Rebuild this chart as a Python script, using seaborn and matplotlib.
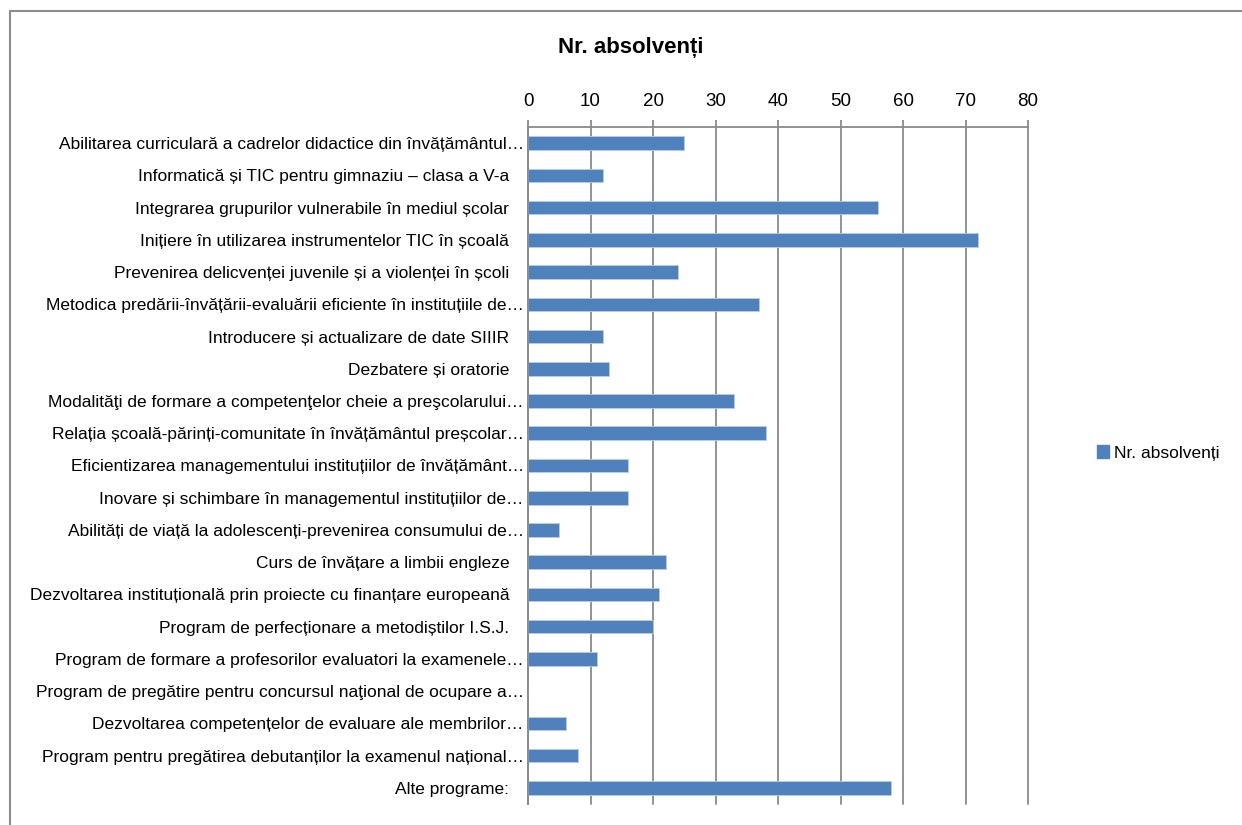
import matplotlib
matplotlib.use("Agg")
import matplotlib.pyplot as plt
import matplotlib.patches as mpatches
import numpy as np
import pandas as pd
import seaborn as sns

# data
programe = [
    "Abilitarea curriculară a cadrelor didactice din învățământul…",
    "Informatică și TIC pentru gimnaziu – clasa a V-a   ",
    "Integrarea grupurilor vulnerabile în mediul școlar   ",
    "Inițiere în utilizarea instrumentelor TIC în școală   ",
    "Prevenirea delicvenței juvenile și a violenței în școli   ",
    "Metodica predării-învățării-evaluării eficiente în instituțiile de…",
    "Introducere și actualizare de date SIIIR   ",
    "Dezbatere și oratorie   ",
    "Modalităţi de formare a competenţelor cheie a preşcolarului…",
    "Relația școală-părinți-comunitate în învățământul preșcolar…",
    "Eficientizarea managementului instituțiilor de învățământ…",
    "Inovare și schimbare în managementul instituțiilor de…",
    "Abilități de viață la adolescenți-prevenirea consumului de…",
    "Curs de învățare a limbii engleze   ",
    "Dezvoltarea instituțională prin proiecte cu finanțare europeană   ",
    "Program de perfecționare a metodiștilor I.S.J.   ",
    "Program de formare a profesorilor evaluatori la examenele…",
    "Program de pregătire pentru concursul naţional de ocupare a…",
    "Dezvoltarea competențelor de evaluare ale membrilor…",
    "Program pentru pregătirea debutanților la examenul național…",
    "Alte programe:   ",
]
absolventi = [25, 12, 56, 72, 24, 37, 12, 13, 33, 38, 16, 16, 5, 22, 21, 20, 11, 0, 6, 8, 58]
series_name = "Nr. absolvenți"
x_ticks = [0, 10, 20, 30, 40, 50, 60, 70, 80]

BAR_COLOR = "#4F81BD"
GRID_COLOR = "#8A8A8A"

sns.set_style("white")
plt.rcParams["font.family"] = ["Liberation Sans", "DejaVu Sans"]
plt.rcParams["text.color"] = "black"
plt.rcParams["xtick.color"] = "black"
plt.rcParams["ytick.color"] = "black"

df = pd.DataFrame({"program": programe, "n": absolventi})

fig = plt.figure(figsize=(12.42, 8.25), dpi=100)
ax = fig.add_axes([528 / 1242, 1 - 804 / 825, 500 / 1242, 677 / 825])

sns.barplot(data=df, y="program", x="n", orient="h", color=BAR_COLOR,
            width=0.42, edgecolor="#B9CDE5", linewidth=0.6, saturation=1, ax=ax)

ax.set_xlim(0, 80)
ax.set_ylim(len(programe) - 0.5, -0.5)
ax.xaxis.tick_top()
ax.set_xticks(x_ticks)
ax.set_xticklabels([str(t) for t in x_ticks], fontsize=13.5)
ax.tick_params(axis="x", length=5, color=GRID_COLOR, width=1.3, pad=7)
ax.tick_params(axis="y", which="major", length=0, labelsize=12.5, pad=3)
ax.set_yticks(np.arange(-0.5, len(programe), 1), minor=True)
ax.tick_params(axis="y", which="minor", length=5, color=GRID_COLOR, width=1.3)
ax.set_xlabel("")
ax.set_ylabel("")
ax.grid(axis="x", color=GRID_COLOR, linewidth=1.3)
for gl in ax.get_xgridlines():
    gl.set_clip_on(False)
ax.set_axisbelow(True)

for side in ["right", "bottom"]:
    ax.spines[side].set_visible(False)
for side in ["top", "left"]:
    ax.spines[side].set_color(GRID_COLOR)
    ax.spines[side].set_linewidth(1.3)

fig.text(631 / 1242, 1 - 48 / 825, series_name, ha="center", va="center",
         fontsize=16, fontweight="bold")

handle = mpatches.Patch(color=BAR_COLOR, label=series_name)
fig.legend(handles=[handle], loc="center left", bbox_to_anchor=(1081 / 1242, 1 - 453 / 825),
           frameon=False, fontsize=12.5, handlelength=0.7, handleheight=0.7, handletextpad=0.3)

# outer chart frame (top and left edges visible in the crop)
fig.add_artist(plt.Line2D([10 / 1242, 10 / 1242], [0, 1 - 11 / 825], transform=fig.transFigure,
                          color="#8C8C8C", linewidth=1.5))
fig.add_artist(plt.Line2D([10 / 1242, 1], [1 - 11 / 825, 1 - 11 / 825], transform=fig.transFigure,
                          color="#8C8C8C", linewidth=1.5))

fig.savefig("out.png", dpi=100)
